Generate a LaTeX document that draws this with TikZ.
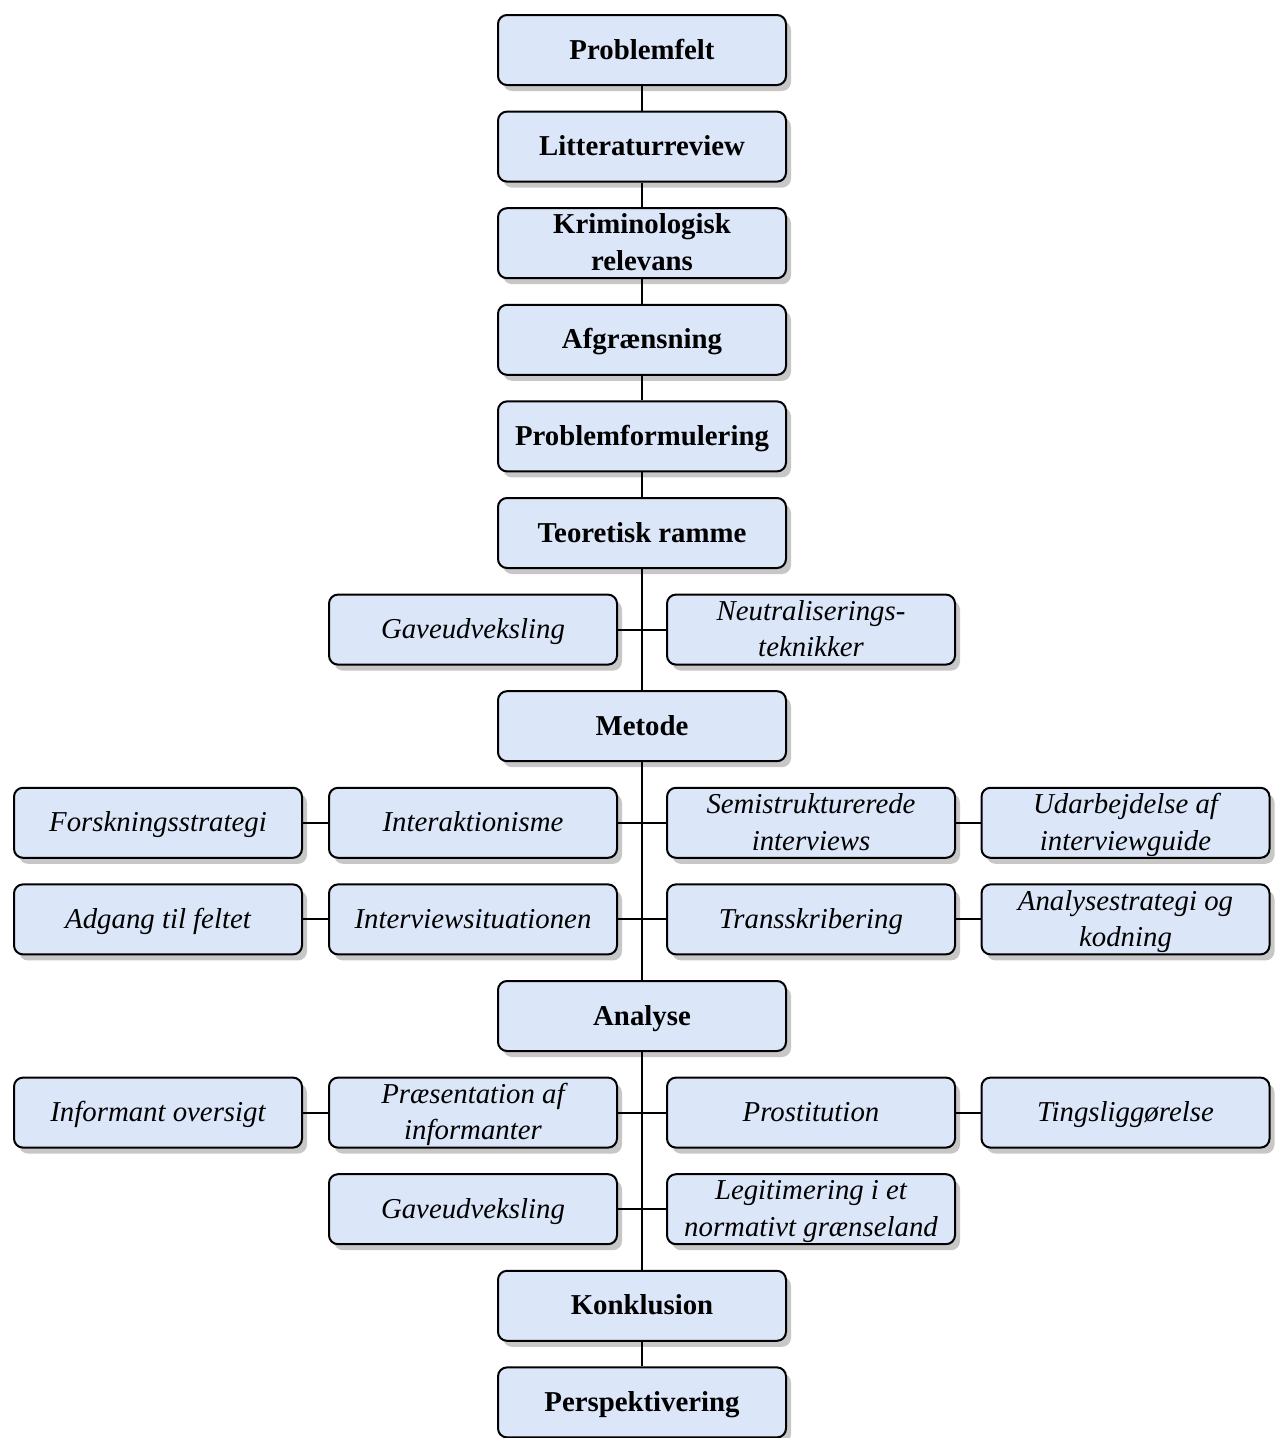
\documentclass[tikz,border=0pt]{standalone}
\usepackage{fontspec}
\setmainfont{Liberation Serif}
\usetikzlibrary{shadows}
\definecolor{boxblue}{RGB}{219,230,248}
\newcommand{\bxstrut}{\rule[-7pt]{0pt}{32pt}}
\newcommand{\bxtext}[1]{\parbox[c][70pt][c]{286pt}{\centering #1}}
\begin{document}
\begin{tikzpicture}[x=1pt,y=1pt,
  box/.style={draw=black, line width=2pt, rounded corners=9pt, fill=boxblue,
    minimum width=288pt, minimum height=70pt, inner sep=0pt,
    drop shadow={shadow xshift=5pt, shadow yshift=-6pt, fill=black!22, opacity=1}},
  mainbox/.style={box, font=\fontsize{28.8}{36.5}\selectfont\bfseries},
  subbox/.style={box, font=\fontsize{28.8}{36.5}\selectfont\itshape},
  link/.style={draw=black, line width=2pt}]
\useasboundingbox (0,0) rectangle (1277,-1438);
% columns
\def\ca{158}\def\cb{473}\def\cc{642}\def\cd{811}\def\ce{1125.5}
% main column
\node[mainbox] (p1) at (\cc,-50) {\bxtext{\bxstrut Problemfelt}};
\node[mainbox] (p2) at (\cc,-146.6) {\bxtext{\bxstrut Litteraturreview}};
\node[mainbox] (p3) at (\cc,-243.2) {\bxtext{\bxstrut Kriminologisk\\\bxstrut relevans}};
\node[mainbox] (p4) at (\cc,-339.8) {\bxtext{\bxstrut Afgrænsning}};
\node[mainbox] (p5) at (\cc,-436.4) {\bxtext{\bxstrut Problemformulering}};
\node[mainbox] (p6) at (\cc,-533) {\bxtext{\bxstrut Teoretisk ramme}};
\node[subbox] (t1) at (\cb,-629.6) {\bxtext{\bxstrut Gaveudveksling}};
\node[subbox] (t2) at (\cd,-629.6) {\bxtext{\bxstrut Neutraliserings-\\\bxstrut teknikker}};
\node[mainbox] (p7) at (\cc,-726.2) {\bxtext{\bxstrut Metode}};
\node[subbox] (m1) at (\ca,-822.8) {\bxtext{\bxstrut Forskningsstrategi}};
\node[subbox] (m2) at (\cb,-822.8) {\bxtext{\bxstrut Interaktionisme}};
\node[subbox] (m3) at (\cd,-822.8) {\bxtext{\bxstrut Semistrukturerede\\\bxstrut interviews}};
\node[subbox] (m4) at (\ce,-822.8) {\bxtext{\bxstrut Udarbejdelse af\\\bxstrut interviewguide}};
\node[subbox] (m5) at (\ca,-919.4) {\bxtext{\bxstrut Adgang til feltet}};
\node[subbox] (m6) at (\cb,-919.4) {\bxtext{\bxstrut Interviewsituationen}};
\node[subbox] (m7) at (\cd,-919.4) {\bxtext{\bxstrut Transskribering}};
\node[subbox] (m8) at (\ce,-919.4) {\bxtext{\bxstrut Analysestrategi og\\\bxstrut kodning}};
\node[mainbox] (p8) at (\cc,-1016) {\bxtext{\bxstrut Analyse}};
\node[subbox] (a1) at (\ca,-1112.6) {\bxtext{\bxstrut Informant oversigt}};
\node[subbox] (a2) at (\cb,-1112.6) {\bxtext{\bxstrut Præsentation af\\\bxstrut informanter}};
\node[subbox] (a3) at (\cd,-1112.6) {\bxtext{\bxstrut Prostitution}};
\node[subbox] (a4) at (\ce,-1112.6) {\bxtext{\bxstrut Tingsliggørelse}};
\node[subbox] (a5) at (\cb,-1209.2) {\bxtext{\bxstrut Gaveudveksling}};
\node[subbox] (a6) at (\cd,-1209.2) {\bxtext{\bxstrut Legitimering i et\\\bxstrut normativt grænseland}};
\node[mainbox] (p9) at (\cc,-1305.8) {\bxtext{\bxstrut Konklusion}};
\node[mainbox] (p10) at (\cc,-1402.4) {\bxtext{\bxstrut Perspektivering}};
% spine
\draw[link] (p1) -- (p2);
\draw[link] (p2) -- (p3);
\draw[link] (p3) -- (p4);
\draw[link] (p4) -- (p5);
\draw[link] (p5) -- (p6);
\draw[link] (p6) -- (p7);
\draw[link] (p7) -- (p8);
\draw[link] (p8) -- (p9);
\draw[link] (p9) -- (p10);
% rows
\draw[link] (t1) -- (t2);
\draw[link] (m1) -- (m2);
\draw[link] (m2) -- (m3);
\draw[link] (m3) -- (m4);
\draw[link] (m5) -- (m6);
\draw[link] (m6) -- (m7);
\draw[link] (m7) -- (m8);
\draw[link] (a1) -- (a2);
\draw[link] (a2) -- (a3);
\draw[link] (a3) -- (a4);
\draw[link] (a5) -- (a6);
\end{tikzpicture}
\end{document}
